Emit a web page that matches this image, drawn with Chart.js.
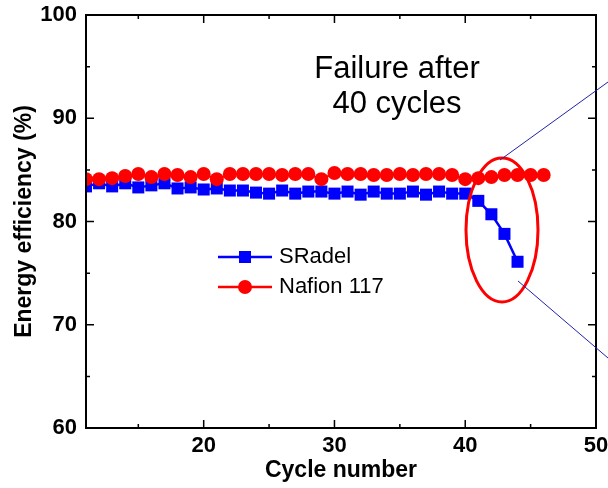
<!DOCTYPE html>
<html>
<head>
<meta charset="utf-8">
<script src="https://cdn.jsdelivr.net/npm/chart.js@4.4.1/dist/chart.umd.min.js"></script>
<style>
    html, body { margin: 0; padding: 0; background: #fff; }
    #wrap { width: 608px; height: 488px; }
</style>
</head>
<body>
<div id="wrap"><canvas id="myChart" width="608" height="488"></canvas></div>
<script>
// cycles and efficiency values (%)
const ciclosSradel = [11, 12, 13, 14, 15, 16, 17, 18, 19, 20, 21, 22, 23, 24, 25, 26, 27,
    28, 29, 30, 31, 32, 33, 34, 35, 36, 37, 38, 39, 40, 41, 42, 43, 44];
const sradel = [83.4, 83.7, 83.4, 83.7, 83.3, 83.5, 83.7, 83.2, 83.3, 83.1, 83.2, 83.0, 83.0, 82.8,
    82.7, 83.0, 82.7, 82.9, 82.9, 82.7, 82.9, 82.6, 82.9, 82.7, 82.7, 82.9, 82.6, 82.9,
    82.7, 82.7, 82.0, 80.7, 78.8, 76.1];

const ciclosNafion = [11, 12, 13, 14, 15, 16, 17, 18, 19, 20, 21, 22, 23, 24, 25, 26, 27,
    28, 29, 30, 31, 32, 33, 34, 35, 36, 37, 38, 39, 40, 41, 42, 43, 44, 45, 46];
const nafion = [84.1, 84.1, 84.2, 84.4, 84.6, 84.3, 84.6, 84.5, 84.3, 84.6, 84.1, 84.6, 84.6, 84.6,
    84.6, 84.5, 84.6, 84.6, 84.1, 84.7, 84.6, 84.6, 84.5, 84.5, 84.6, 84.5, 84.6, 84.6,
    84.5, 84.1, 84.2, 84.3, 84.5, 84.5, 84.5, 84.5];

const xTicks = [15, 20, 25, 30, 35, 40, 45, 50];
const xLabels = [20, 30, 40, 50];
const yTicks = [60, 65, 70, 75, 80, 85, 90, 95, 100];
const yLabels = [60, 70, 80, 90, 100];

const fonte = "'Liberation Sans', Arial, sans-serif";

// box, inward ticks, legend and the zoom callout
const moldura = {
    id: 'moldura',
    afterDraw(chart) {
        const ctx = chart.ctx;
        const a = chart.chartArea;
        const x = chart.scales.x;
        const y = chart.scales.y;
        ctx.save();
        ctx.strokeStyle = '#000';
        ctx.lineWidth = 2;
        ctx.strokeRect(a.left, a.top, a.right - a.left, a.bottom - a.top);

        ctx.lineWidth = 1.5;
        ctx.beginPath();
        xTicks.forEach(v => {
            const px = x.getPixelForValue(v);
            const len = xLabels.includes(v) ? 8 : 4;
            ctx.moveTo(px, a.bottom); ctx.lineTo(px, a.bottom - len);
            ctx.moveTo(px, a.top); ctx.lineTo(px, a.top + len);
        });
        yTicks.forEach(v => {
            const py = y.getPixelForValue(v);
            const len = yLabels.includes(v) ? 8 : 4;
            ctx.moveTo(a.left, py); ctx.lineTo(a.left + len, py);
            ctx.moveTo(a.right, py); ctx.lineTo(a.right - len, py);
        });
        ctx.stroke();

        // legenda
        ctx.lineWidth = 2.5;
        ctx.strokeStyle = '#0000FF';
        ctx.beginPath(); ctx.moveTo(218, 257); ctx.lineTo(272, 257); ctx.stroke();
        ctx.fillStyle = '#0000FF';
        ctx.fillRect(239, 251, 12, 12);
        ctx.strokeStyle = '#FF0000';
        ctx.beginPath(); ctx.moveTo(218, 287); ctx.lineTo(272, 287); ctx.stroke();
        ctx.fillStyle = '#FF0000';
        ctx.beginPath(); ctx.arc(245, 287, 7, 0, Math.PI * 2); ctx.fill();
        ctx.fillStyle = '#000';
        ctx.font = '22px ' + fonte;
        ctx.textAlign = 'left';
        ctx.textBaseline = 'middle';
        ctx.fillText('SRadel', 279, 257);
        ctx.fillText('Nafion 117', 279, 287);

        // texto
        ctx.font = '31px ' + fonte;
        ctx.textAlign = 'center';
        ctx.textBaseline = 'alphabetic';
        ctx.fillText('Failure after', 397, 78);
        ctx.fillText('40 cycles', 397, 113);

        // elipse e linhas do zoom
        ctx.strokeStyle = '#FF0000';
        ctx.lineWidth = 3;
        ctx.beginPath();
        ctx.ellipse(502, 230, 36, 72, 0, 0, Math.PI * 2);
        ctx.stroke();
        ctx.strokeStyle = '#2222AA';
        ctx.lineWidth = 1;
        ctx.beginPath();
        ctx.moveTo(500, 160); ctx.lineTo(608, 82);
        ctx.moveTo(518, 281); ctx.lineTo(608, 358);
        ctx.stroke();
        ctx.restore();
    }
};

const data = {
    datasets: [{
        label: 'SRadel',
        data: ciclosSradel.map((c, i) => ({ x: c, y: sradel[i] })),
        borderColor: '#0000FF',
        backgroundColor: '#0000FF',
        borderWidth: 2.5,
        pointStyle: 'rect',
        pointRadius: 8.5,
        pointBorderWidth: 0,
        order: 2
    }, {
        label: 'Nafion 117',
        data: ciclosNafion.map((c, i) => ({ x: c, y: nafion[i] })),
        borderColor: '#FF0000',
        backgroundColor: '#FF0000',
        borderWidth: 2,
        pointStyle: 'circle',
        pointRadius: 7,
        pointBorderWidth: 0,
        order: 1
    }]
};

const config = {
    type: 'line',
    data: data,
    options: {
        responsive: false,
        animation: false,
        layout: { padding: { left: 0, right: 12, top: 15, bottom: 0 } },
        scales: {
            x: {
                type: 'linear',
                min: 11,
                max: 50,
                grid: { display: false, drawTicks: false },
                border: { display: false },
                afterBuildTicks: scale => { scale.ticks = xLabels.map(v => ({ value: v })); },
                afterFit: scale => { scale.height = 60; scale.paddingLeft = 0; scale.paddingRight = 0; },
                ticks: {
                    color: '#000',
                    padding: 5,
                    maxRotation: 0,
                    font: { family: fonte, size: 22, weight: 'bold' }
                },
                title: {
                    display: true,
                    text: 'Cycle number',
                    color: '#000',
                    padding: { top: 0, bottom: 4 },
                    font: { family: fonte, size: 23, weight: 'bold' }
                }
            },
            y: {
                min: 60,
                max: 100,
                grid: { display: false, drawTicks: false },
                border: { display: false },
                afterBuildTicks: scale => { scale.ticks = yLabels.map(v => ({ value: v })); },
                afterFit: scale => { scale.width = 86; scale.paddingTop = 0; scale.paddingBottom = 0; },
                ticks: {
                    color: '#000',
                    padding: 9,
                    font: { family: fonte, size: 22, weight: 'bold' }
                },
                title: {
                    display: true,
                    text: 'Energy efficiency (%)',
                    color: '#000',
                    padding: { top: 11, bottom: 0 },
                    font: { family: fonte, size: 23, weight: 'bold' }
                }
            }
        },
        plugins: {
            legend: { display: false },
            tooltip: { enabled: false }
        }
    },
    plugins: [moldura]
};

const myChart = new Chart(
    document.getElementById('myChart'),
    config
);
</script>
</body>
</html>
